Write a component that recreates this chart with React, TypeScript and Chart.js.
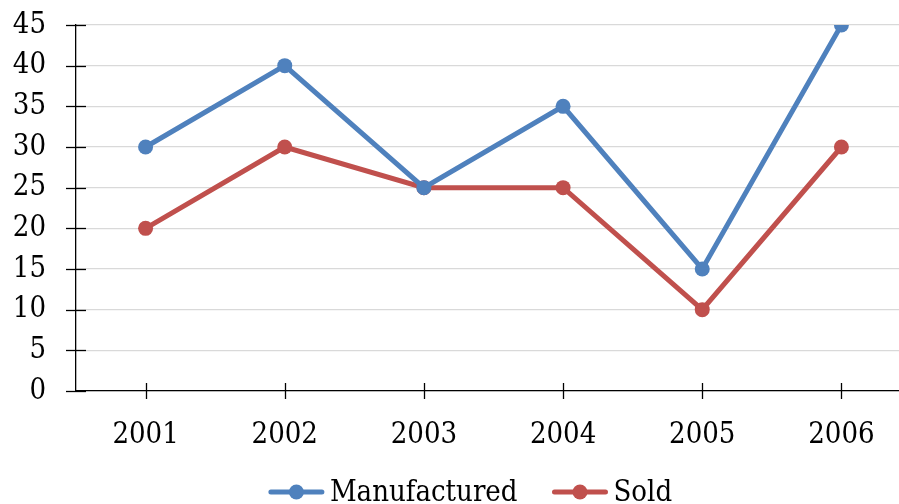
import React, { useEffect, useRef } from "react";
import { Chart, registerables } from "chart.js";

Chart.register(...registerables);

const categories = ["2001", "2002", "2003", "2004", "2005", "2006"];
const manufactured = [30, 40, 25, 35, 15, 45];
const sold = [20, 30, 25, 25, 10, 30];
const seriesNames = ["Manufactured", "Sold"];
const colors = ["#4F81BD", "#C0504D"];
const yMin = 0;
const yMax = 45;
const yStep = 5;

const FONT = "'DejaVu Serif Condensed', 'DejaVu Serif', serif";
const FS = 29;

const crossTicks = {
  id: "crossTicks",
  afterDraw(chart: any) {
    const { ctx, chartArea, scales } = chart;
    ctx.save();
    ctx.strokeStyle = "#000";
    ctx.lineWidth = 1.3;
    const y = scales.y;
    y.ticks.forEach((_t: any, i: number) => {
      const py = Math.round(y.getPixelForTick(i)) + 0.5;
      ctx.beginPath();
      ctx.moveTo(chartArea.left - 10, py);
      ctx.lineTo(chartArea.left + 10, py);
      ctx.stroke();
    });
    const x = scales.x;
    x.ticks.forEach((_t: any, i: number) => {
      const px = Math.round(x.getPixelForTick(i)) + 0.5;
      ctx.beginPath();
      ctx.moveTo(px, chartArea.bottom - 8);
      ctx.lineTo(px, chartArea.bottom + 8);
      ctx.stroke();
    });
    ctx.restore();
  },
};

const lineLegend = {
  id: "lineLegend",
  afterDraw(chart: any) {
    const { ctx } = chart;
    const datasets = chart.data.datasets;
    ctx.save();
    ctx.font = `${FS}px ${FONT}`;
    ctx.textBaseline = "middle";
    ctx.textAlign = "left";
    const iconW = 57;
    const gapText = 5;
    const gapItem = 34;
    const widths = datasets.map((ds: any) => ctx.measureText(ds.label).width);
    let total = 0;
    widths.forEach((w: number, i: number) => {
      total += iconW + gapText + w + (i < widths.length - 1 ? gapItem : 0);
    });
    const cy = 492;
    let x = 470 - total / 2;
    datasets.forEach((ds: any, i: number) => {
      const c = ds.borderColor;
      ctx.strokeStyle = c;
      ctx.fillStyle = c;
      ctx.lineWidth = 5;
      ctx.lineCap = "round";
      ctx.beginPath();
      ctx.moveTo(x + 3, cy);
      ctx.lineTo(x + iconW - 3, cy);
      ctx.stroke();
      ctx.beginPath();
      ctx.arc(x + iconW / 2, cy, 7.5, 0, Math.PI * 2);
      ctx.fill();
      ctx.fillStyle = "#000";
      ctx.fillText(ds.label, x + iconW + gapText, cy + 1);
      x += iconW + gapText + widths[i] + gapItem;
    });
    ctx.restore();
  },
};

export default function App() {
  const ref = useRef<HTMLCanvasElement>(null);
  useEffect(() => {
    document.body.style.margin = "0";
    document.body.style.overflow = "hidden";
    if (!ref.current) return;
    const series = [manufactured, sold];
    const chart = new Chart(ref.current, {
      type: "line",
      data: {
        labels: categories,
        datasets: series.map((d, i) => ({
          label: seriesNames[i],
          data: d,
          borderColor: colors[i],
          backgroundColor: colors[i],
          borderWidth: 5,
          pointRadius: 7.5,
          pointHoverRadius: 7.5,
          pointBackgroundColor: colors[i],
          pointBorderWidth: 0,
          pointStyle: "circle",
          tension: 0,
        })),
      },
      options: {
        responsive: false,
        animation: false,
        layout: { padding: { left: 0, right: 29, top: 25, bottom: 33 } },
        plugins: {
          tooltip: { enabled: false },
          legend: { display: false },
        },
        scales: {
          x: {
            offset: true,
            grid: {
              display: false,
            },
            border: { color: "#000", width: 1.3 },
            ticks: {
              color: "#000",
              padding: 19,
              autoSkip: false,
              font: { family: FONT, size: FS },
              maxRotation: 0,
            },
            afterFit: (s: any) => {
              s.height = 80;
            },
          },
          y: {
            min: yMin,
            max: yMax,
            grid: {
              color: "#d9d9d9",
              lineWidth: 1.3,
              tickLength: 30,
              tickColor: "rgba(0,0,0,0)",
              tickWidth: 1.3,
            },
            border: { color: "#000", width: 1.3 },
            ticks: {
              stepSize: yStep,
              autoSkip: false,
              color: "#000",
              padding: 0,
              font: { family: FONT, size: FS },
            },
            afterFit: (s: any) => {
              s.width = 76;
            },
          },
        },
      },
      plugins: [crossTicks, lineLegend],
    });
    return () => chart.destroy();
  }, []);
  return (
    <div style={{ width: 899, height: 504, overflow: "hidden", position: "relative" }}>
      <canvas ref={ref} width={940} height={504} style={{ display: "block", width: 940, height: 504 }} />
    </div>
  );
}
